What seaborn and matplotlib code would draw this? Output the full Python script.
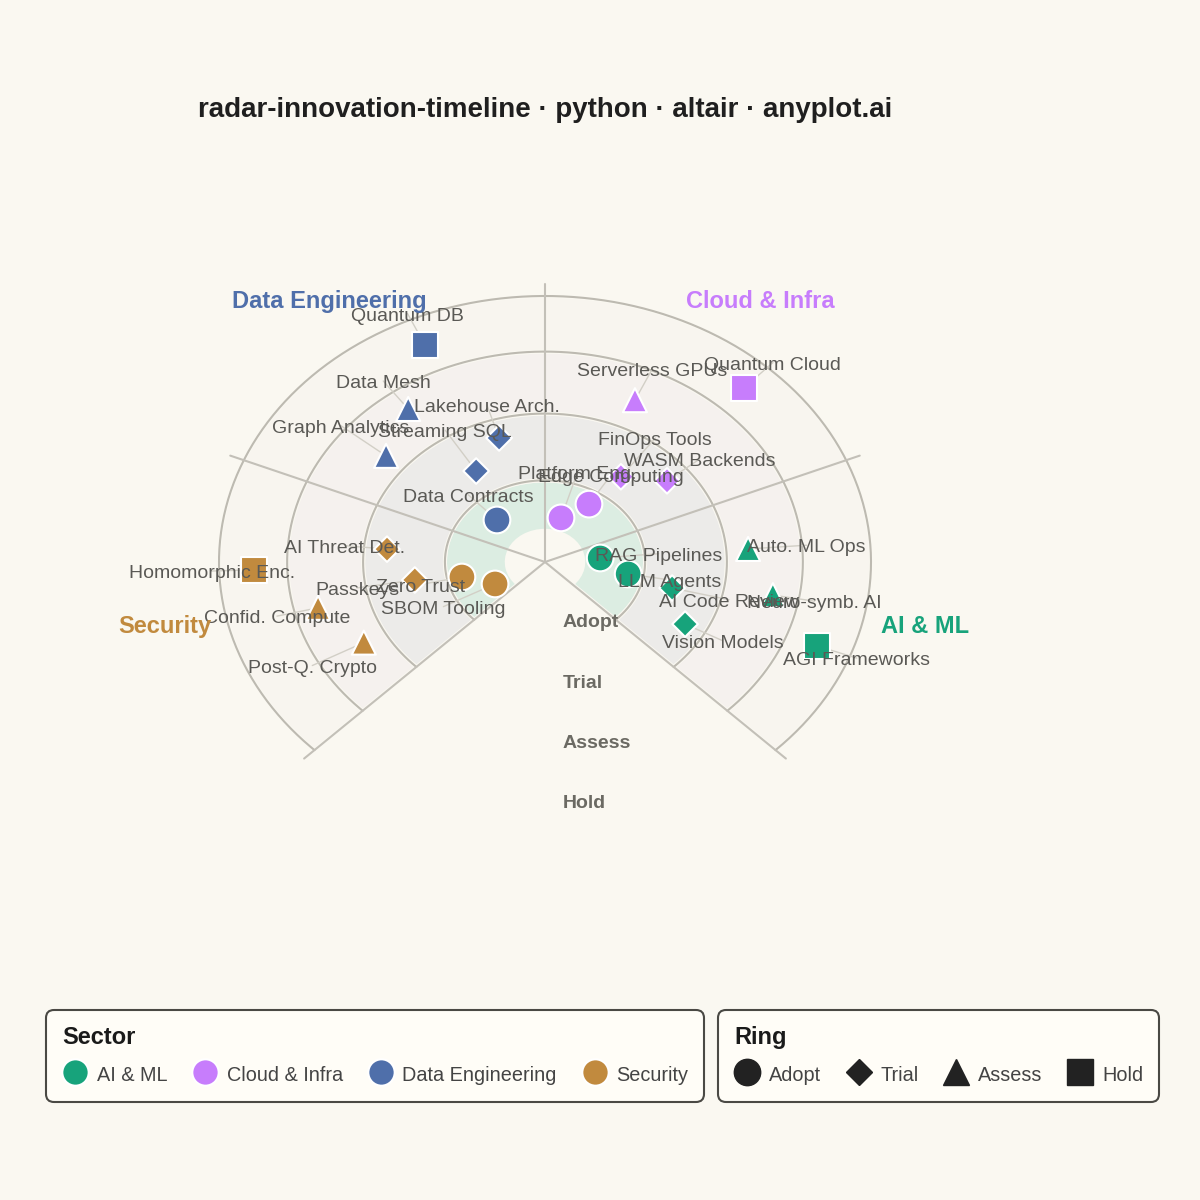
import numpy as np
import pandas as pd
import matplotlib
matplotlib.use("Agg")
import matplotlib.pyplot as plt
from matplotlib.patches import Wedge
from matplotlib.lines import Line2D
import seaborn as sns

# sectors / rings of the innovation radar
sectors = ["AI & ML", "Cloud & Infra", "Data Engineering", "Security"]
sector_start = [-45.0, 22.5, 90.0, 157.5]   # degrees, ccw from east
sector_span = 67.5
rings = ["Adopt", "Trial", "Assess", "Hold"]
ring_edges = [0.117, 0.307, 0.558, 0.791, 1.0]  # fraction of outer radius
ring_label_depth = [0.218, 0.447, 0.673, 0.899]

# technologies (angle in degrees, radius as fraction of outer ring)
tech_names = [
    "RAG Pipelines", "LLM Agents", "AI Code Review", "Vision Models",
    "Auto. ML Ops", "Neuro-symb. AI", "AGI Frameworks",
    "Platform Eng.", "Edge Computing", "FinOps Tools", "WASM Backends",
    "Serverless GPUs", "Quantum Cloud",
    "Data Contracts", "Streaming SQL", "Lakehouse Arch.", "Graph Analytics",
    "Data Mesh", "Quantum DB",
    "SBOM Tooling", "Zero Trust", "Passkeys", "AI Threat Det.",
    "Post-Q. Crypto", "Confid. Compute", "Homomorphic Enc.",
]
tech_sector = (["AI & ML"] * 7 + ["Cloud & Infra"] * 6
               + ["Data Engineering"] * 6 + ["Security"] * 7)
tech_ring = [
    "Adopt", "Adopt", "Trial", "Trial", "Assess", "Assess", "Hold",
    "Adopt", "Adopt", "Trial", "Trial", "Assess", "Hold",
    "Adopt", "Trial", "Trial", "Assess", "Assess", "Hold",
    "Adopt", "Adopt", "Trial", "Trial", "Assess", "Assess", "Hold",
]
tech_angle = [
    5.1, -10.0, -14.1, -28.5, 4.5, -10.1, -20.7,
    73.5, 58.2, 54.0, 39.2, 65.6, 47.0,
    133.0, 121.7, 106.8, 140.7, 126.1, 114.3,
    208.3, 192.5, 189.6, 174.3, 208.6, 193.9, 181.9,
]
tech_radius = [
    0.170, 0.259, 0.402, 0.489, 0.625, 0.710, 0.892,
    0.173, 0.256, 0.396, 0.483, 0.668, 0.895,
    0.216, 0.402, 0.487, 0.630, 0.712, 0.895,
    0.174, 0.261, 0.405, 0.487, 0.633, 0.717, 0.893,
]

sector_colors = {"AI & ML": "#17a37b", "Cloud & Infra": "#c77dfc",
                 "Data Engineering": "#4f6faa", "Security": "#c18a3e"}
ring_fills = ["#dcede2", "#ecebe9", "#f5f1ee", "#f8f5ef"]
ring_markers = {"Adopt": "o", "Trial": "D", "Assess": "^", "Hold": "s"}
ring_sizes = {"Adopt": 370, "Trial": 170, "Assess": 300, "Hold": 340}
bg = "#faf8f1"

sns.set_theme(style="white")
plt.rcParams["font.family"] = ["Liberation Sans", "DejaVu Sans"]

fig = plt.figure(figsize=(12, 12), dpi=100, facecolor=bg)
ax = fig.add_axes([0, 0, 1, 1])
ax.set_facecolor(bg)
# chart centre sits at pixel (545, 562); outer ring is 326 px wide, 266 px tall
ax.set_xlim(-545 / 326, 655 / 326)
ax.set_ylim(-638 / 266, 562 / 266)
ax.axis("off")
dy = -2.5 / 266  # small nudge so text centres sit where the reference has them

fan_lo, fan_hi = sector_start[0], sector_start[0] + 4 * sector_span

# ring bands
for i in range(4):
    ax.add_patch(Wedge((0, 0), ring_edges[i + 1], fan_lo, fan_hi,
                       width=ring_edges[i + 1] - ring_edges[i],
                       facecolor=ring_fills[i], edgecolor=bg, lw=3, zorder=1))
t = np.radians(np.linspace(fan_lo, fan_hi, 300))
for r in ring_edges[1:]:
    ax.plot(r * np.cos(t), r * np.sin(t), color="#bdbab1", lw=1.5, zorder=2)
for a in sector_start + [fan_hi]:
    a = np.radians(a)
    ax.plot([0, 1.045 * np.cos(a)], [0, 1.045 * np.sin(a)],
            color="#c3c0b8", lw=1.5, zorder=2)

df = pd.DataFrame({"name": tech_names, "sector": tech_sector,
                   "ring": tech_ring, "angle": tech_angle,
                   "radius": tech_radius})
rad = np.radians(df["angle"])
df["x"] = df["radius"] * np.cos(rad)
df["y"] = df["radius"] * np.sin(rad)

# labels pushed radially outward, inner-slot items a bit further
ring_mid = {rg: (ring_edges[i] + ring_edges[i + 1]) / 2 for i, rg in enumerate(rings)}
lift = [0.18 if r < ring_mid[rg] - 0.02 else 0.13
        for r, rg in zip(df["radius"], df["ring"])]
df["lr"] = df["radius"] + np.array(lift)
df["lx"] = df["lr"] * np.cos(rad)
df["ly"] = df["lr"] * np.sin(rad)

for _, row in df.iterrows():
    ax.plot([row.x, row.lx], [row.y, row.ly], color="#d2cfc6", lw=1, zorder=3)

sns.scatterplot(data=df, x="x", y="y", hue="sector", style="ring", size="ring",
                palette=sector_colors, markers=ring_markers, sizes=ring_sizes,
                hue_order=sectors, style_order=rings, size_order=rings,
                edgecolor="white", linewidth=1.5, legend=False, ax=ax, zorder=5)

for _, row in df.iterrows():
    ax.text(row.lx, row.ly + dy, row["name"], ha="center", va="center",
            fontsize=14, color="#5a5955", zorder=6)

# sector titles
for s, a0 in zip(sectors, sector_start):
    a = np.radians(a0 + sector_span / 2)
    ax.text(1.19 * np.cos(a), 1.19 * np.sin(a) + dy, s, ha="center", va="center",
            fontsize=17, fontweight="bold", color=sector_colors[s], zorder=6)

# ring names down the open gap
for rg, d in zip(rings, ring_label_depth):
    ax.text(0.055, -d + dy, rg, ha="left", va="center", fontsize=14,
            fontweight="bold", color="#6b6a63", zorder=6)

fig.text(545 / 1200, 1 - 110 / 1200,
         "radar-innovation-timeline · python · altair · anyplot.ai",
         ha="center", va="center", fontsize=20, fontweight="bold", color="#1f1f1f")

leg_kw = dict(loc="upper left", frameon=True, fancybox=True, fontsize=14.3,
              title_fontproperties={"weight": "bold", "size": 17},
              alignment="left", borderpad=0.8, handletextpad=0.45,
              columnspacing=1.25, labelspacing=0.7, borderaxespad=0,
              handleheight=1.4, facecolor="#fffdf7", edgecolor="#4a4944",
              framealpha=1, labelcolor="#444444")

sector_handles = [Line2D([], [], marker="o", ls="none", ms=19,
                         mfc=sector_colors[s], mec="white", mew=1.5, label=s)
                  for s in sectors]
leg1 = fig.legend(handles=sector_handles, title="Sector", ncol=4,
                  handlelength=1.3, bbox_to_anchor=(46 / 1200, 1 - 1010 / 1200),
                  **leg_kw)

ring_ms = {"Adopt": 19, "Trial": 13.5, "Assess": 19, "Hold": 18.5}
ring_handles = [Line2D([], [], marker=ring_markers[rg], ls="none", ms=ring_ms[rg],
                       mfc="#222222", mec="#222222", label=rg)
                for rg in rings]
leg2 = fig.legend(handles=ring_handles, title="Ring", ncol=4,
                  handlelength=1.3, bbox_to_anchor=(718 / 1200, 1 - 1010 / 1200),
                  **leg_kw)

for leg in (leg1, leg2):
    leg.get_frame().set_linewidth(1.5)
    leg.get_frame().set_boxstyle("round,pad=0,rounding_size=0.4")
    leg.get_title().set_color("#1a1a1a")

fig.savefig("out.png", dpi=100, facecolor=bg)
